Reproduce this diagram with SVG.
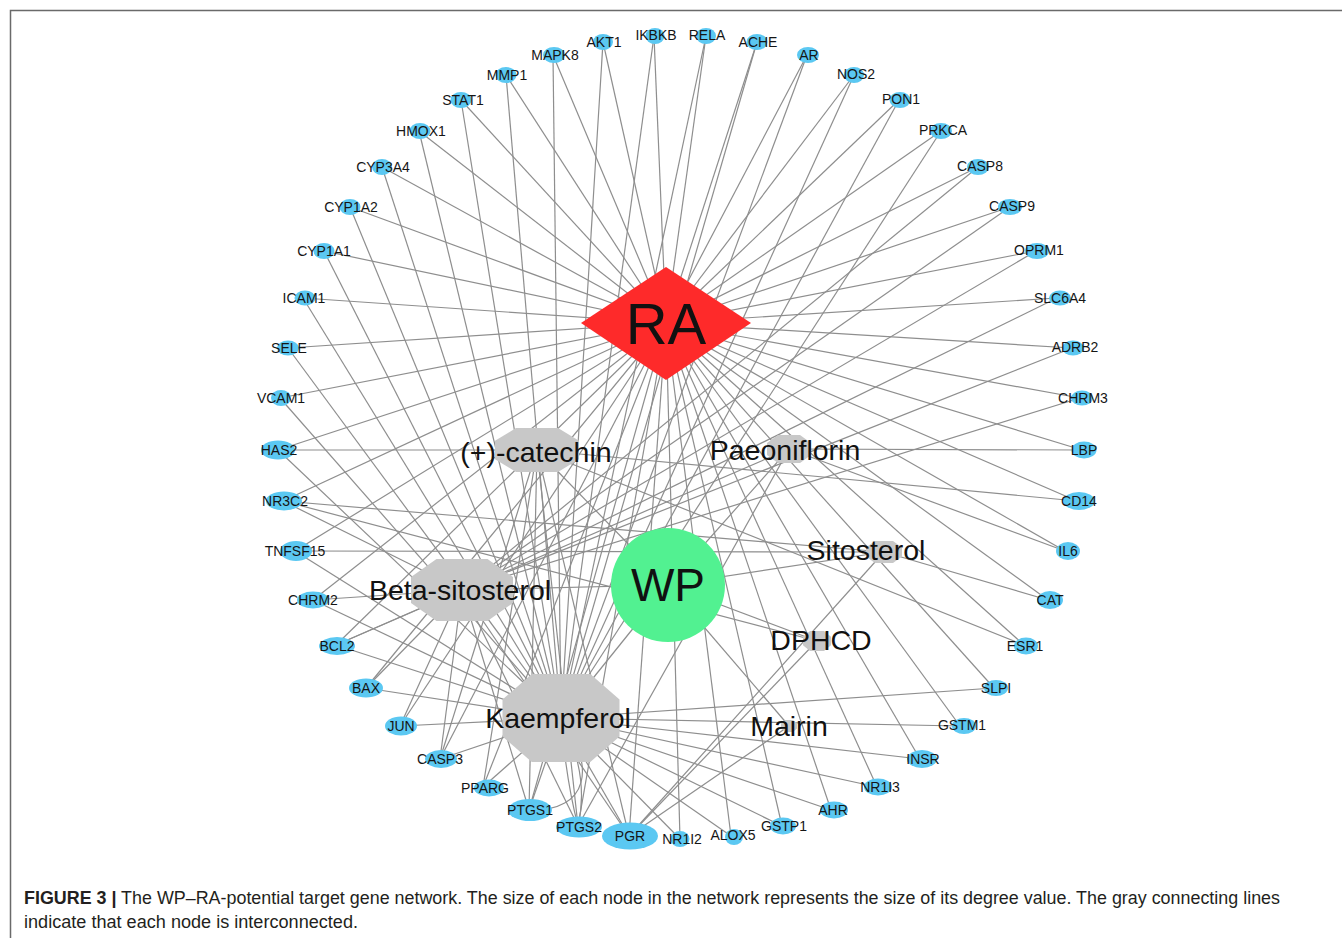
<svg xmlns="http://www.w3.org/2000/svg" width="1342" height="938" viewBox="0 0 1342 938">
<style>
.e line,.e path{stroke:#8e8e8e;stroke-width:1.2;fill:none}
.t ellipse{fill:#5bc8f2}
.t text{font-family:"Liberation Sans",Arial,sans-serif;font-size:14px;text-anchor:middle;fill:#151515}
.c polygon{fill:#c8c8c8}
.c text{font-family:"Liberation Sans",Arial,sans-serif;font-size:28.5px;text-anchor:middle;fill:#111}
.cap{font-family:"Liberation Sans",Arial,sans-serif;font-size:17.5px;fill:#231f20}
</style>
<rect x="0" y="0" width="1342" height="938" fill="#ffffff"/>
<path d="M10.5,938 V10.5 H1342" fill="none" stroke="#6a6a6a" stroke-width="1.5"/>
<g id="edges" class="e">
<!-- RA to targets -->
<line x1="666" y1="323" x2="680" y2="839"/><line x1="666" y1="323" x2="629" y2="836"/><line x1="666" y1="323" x2="578" y2="826"/><line x1="666" y1="323" x2="529" y2="810"/><line x1="666" y1="323" x2="483" y2="787"/><line x1="666" y1="323" x2="440" y2="759"/><line x1="666" y1="323" x2="400" y2="726"/><line x1="666" y1="323" x2="366" y2="688"/><line x1="666" y1="323" x2="336" y2="645"/><line x1="666" y1="323" x2="313" y2="600"/><line x1="666" y1="323" x2="295" y2="551"/><line x1="666" y1="323" x2="283" y2="501"/><line x1="666" y1="323" x2="278" y2="450"/><line x1="666" y1="323" x2="280" y2="398"/><line x1="666" y1="323" x2="288" y2="348"/><line x1="666" y1="323" x2="303" y2="298"/><line x1="666" y1="323" x2="324" y2="251"/><line x1="666" y1="323" x2="350" y2="207"/><line x1="666" y1="323" x2="382" y2="167"/><line x1="666" y1="323" x2="419" y2="131"/><line x1="666" y1="323" x2="461" y2="100"/><line x1="666" y1="323" x2="506" y2="75"/><line x1="666" y1="323" x2="553" y2="55"/><line x1="666" y1="323" x2="603" y2="42"/><line x1="666" y1="323" x2="654" y2="36"/><line x1="666" y1="323" x2="706" y2="36"/><line x1="666" y1="323" x2="757" y2="42"/><line x1="666" y1="323" x2="807" y2="55"/><line x1="666" y1="323" x2="854" y2="75"/><line x1="666" y1="323" x2="899" y2="100"/><line x1="666" y1="323" x2="941" y2="131"/><line x1="666" y1="323" x2="978" y2="167"/><line x1="666" y1="323" x2="1010" y2="207"/><line x1="666" y1="323" x2="1036" y2="251"/><line x1="666" y1="323" x2="1057" y2="298"/><line x1="666" y1="323" x2="1072" y2="348"/><line x1="666" y1="323" x2="1080" y2="398"/><line x1="666" y1="323" x2="1082" y2="450"/><line x1="666" y1="323" x2="1077" y2="501"/><line x1="666" y1="323" x2="1065" y2="551"/><line x1="666" y1="323" x2="1048" y2="600"/><line x1="666" y1="323" x2="1024" y2="645"/><line x1="666" y1="323" x2="994" y2="688"/><line x1="666" y1="323" x2="960" y2="726"/><line x1="666" y1="323" x2="920" y2="759"/><line x1="666" y1="323" x2="877" y2="787"/><line x1="666" y1="323" x2="831" y2="810"/><line x1="666" y1="323" x2="782" y2="826"/><line x1="666" y1="323" x2="731" y2="836"/>
<!-- WP to compounds -->
<line x1="668" y1="585" x2="561" y2="718"/><line x1="668" y1="585" x2="462" y2="590"/><line x1="668" y1="585" x2="537" y2="450"/><line x1="668" y1="585" x2="789" y2="449"/><line x1="668" y1="585" x2="884" y2="552"/><line x1="668" y1="585" x2="817" y2="641"/><line x1="668" y1="585" x2="789" y2="726"/>
<!-- Kaempferol -->
<line x1="561" y1="718" x2="553" y2="55"/><line x1="561" y1="718" x2="603" y2="42"/><line x1="561" y1="718" x2="654" y2="36"/><line x1="561" y1="718" x2="706" y2="36"/><line x1="561" y1="718" x2="757" y2="42"/><line x1="561" y1="718" x2="807" y2="55"/><line x1="561" y1="718" x2="854" y2="75"/><line x1="561" y1="718" x2="899" y2="100"/><line x1="561" y1="718" x2="941" y2="131"/><line x1="561" y1="718" x2="461" y2="100"/><line x1="561" y1="718" x2="506" y2="75"/><line x1="561" y1="718" x2="419" y2="131"/><line x1="561" y1="718" x2="382" y2="167"/><line x1="561" y1="718" x2="350" y2="207"/><line x1="561" y1="718" x2="324" y2="251"/><line x1="561" y1="718" x2="303" y2="298"/><line x1="561" y1="718" x2="288" y2="348"/><line x1="561" y1="718" x2="280" y2="398"/><line x1="561" y1="718" x2="278" y2="450"/><line x1="561" y1="718" x2="295" y2="551"/><line x1="561" y1="718" x2="313" y2="600"/><line x1="561" y1="718" x2="336" y2="645"/><line x1="561" y1="718" x2="366" y2="688"/><line x1="561" y1="718" x2="400" y2="726"/><line x1="561" y1="718" x2="440" y2="759"/><line x1="561" y1="718" x2="483" y2="787"/><line x1="561" y1="718" x2="529" y2="810"/><line x1="561" y1="718" x2="629" y2="836"/><line x1="561" y1="718" x2="680" y2="839"/><line x1="561" y1="718" x2="731" y2="836"/><line x1="561" y1="718" x2="782" y2="826"/><line x1="561" y1="718" x2="831" y2="810"/><line x1="561" y1="718" x2="877" y2="787"/><line x1="561" y1="718" x2="920" y2="759"/><line x1="561" y1="718" x2="960" y2="726"/><line x1="561" y1="718" x2="994" y2="688"/>
<path d="M561,718 Q590,775 578,826"/><path d="M561,718 Q566,780 578,826"/><path d="M561,718 C596,765 590,812 529,810"/>
<!-- Beta-sitosterol -->
<line x1="462" y1="590" x2="978" y2="167"/><line x1="462" y1="590" x2="1010" y2="207"/><line x1="462" y1="590" x2="1036" y2="251"/><line x1="462" y1="590" x2="1057" y2="298"/><line x1="462" y1="590" x2="1072" y2="348"/><line x1="462" y1="590" x2="1080" y2="398"/><line x1="462" y1="590" x2="283" y2="501"/><line x1="462" y1="590" x2="313" y2="600"/><line x1="462" y1="590" x2="336" y2="645"/><line x1="462" y1="590" x2="366" y2="688"/><line x1="462" y1="590" x2="400" y2="726"/><line x1="462" y1="590" x2="440" y2="759"/><line x1="462" y1="590" x2="529" y2="810"/><line x1="462" y1="590" x2="578" y2="826"/><line x1="462" y1="590" x2="629" y2="836"/>
<!-- (+)-catechin -->
<line x1="537" y1="450" x2="278" y2="450"/><line x1="537" y1="450" x2="1024" y2="645"/><line x1="537" y1="450" x2="1077" y2="501"/><line x1="537" y1="450" x2="529" y2="810"/><line x1="537" y1="450" x2="578" y2="826"/><line x1="537" y1="450" x2="629" y2="836"/><line x1="537" y1="450" x2="483" y2="787"/><line x1="537" y1="450" x2="440" y2="759"/>
<!-- Paeoniflorin -->
<line x1="789" y1="449" x2="1082" y2="450"/><line x1="789" y1="449" x2="1065" y2="551"/><line x1="789" y1="449" x2="578" y2="826"/><line x1="789" y1="449" x2="336" y2="645"/>
<!-- Sitosterol -->
<line x1="884" y1="552" x2="283" y2="501"/><line x1="884" y1="552" x2="1048" y2="600"/><line x1="884" y1="552" x2="629" y2="836"/><line x1="884" y1="552" x2="295" y2="551"/>
<!-- DPHCD / Mairin -->
<line x1="817" y1="641" x2="629" y2="836"/><line x1="817" y1="641" x2="283" y2="501"/><line x1="789" y1="726" x2="629" y2="836"/>
</g>
<g id="RA"><polygon points="666,267 751,323 666,380 581,323" fill="#fe2a2a"/><text x="666" y="344" font-family="Liberation Sans,Arial,sans-serif" font-size="58" text-anchor="middle" fill="#111">RA</text></g>
<g id="WP"><circle cx="668" cy="585" r="57" fill="#52f191"/><text x="668" y="601" font-family="Liberation Sans,Arial,sans-serif" font-size="46" text-anchor="middle" fill="#111">WP</text></g>
<g id="kaempferol" class="c"><polygon points="531.8,674 590.3,674 619.5,699.5 619.5,736.5 590.3,762 531.8,762 502.5,736.5 502.5,699.5"/><text x="558" y="728">Kaempferol</text></g>
<g id="beta-sitosterol" class="c"><polygon points="436.5,559 487.5,559 513,577 513,603 487.5,621 436.5,621 411,603 411,577"/><text x="460" y="600">Beta-sitosterol</text></g>
<g id="catechin" class="c"><polygon points="516,428 558,428 579,440.8 579,459.2 558,472 516,472 495,459.2 495,440.8"/><text x="536" y="462">(+)-catechin</text></g>
<g id="paeoniflorin" class="c"><polygon points="778,435 800,435 811,443.1 811,454.9 800,463 778,463 767,454.9 767,443.1"/><text x="785" y="460">Paeoniflorin</text></g>
<g id="sitosterol" class="c"><polygon points="875,541 893,541 902,547.4 902,556.6 893,563 875,563 866,556.6 866,547.4"/><text x="866" y="560">Sitosterol</text></g>
<g id="dphcd" class="c"><polygon points="810,631 824,631 831,636.8 831,645.2 824,651 810,651 803,645.2 803,636.8"/><text x="821" y="650">DPHCD</text></g>
<g id="mairin" class="c"><polygon points="785,720 793,720 797,723.5 797,728.5 793,732 785,732 781,728.5 781,723.5"/><text x="789" y="736">Mairin</text></g>
<g id="NR1I2" class="t"><ellipse cx="680" cy="839" rx="9.5" ry="8"/><text x="682" y="844">NR1I2</text></g>
<g id="PGR" class="t"><ellipse cx="630" cy="836" rx="28" ry="13.5"/><text x="630" y="841">PGR</text></g>
<g id="PTGS2" class="t"><ellipse cx="579" cy="827" rx="23" ry="10.5"/><text x="579" y="832">PTGS2</text></g>
<g id="PTGS1" class="t"><ellipse cx="530" cy="810" rx="22" ry="11"/><text x="530" y="815">PTGS1</text></g>
<g id="PPARG" class="t"><ellipse cx="489" cy="788" rx="15" ry="8.5"/><text x="485" y="793">PPARG</text></g>
<g id="CASP3" class="t"><ellipse cx="441" cy="759" rx="16" ry="9"/><text x="440" y="764">CASP3</text></g>
<g id="JUN" class="t"><ellipse cx="401" cy="726" rx="16" ry="9.5"/><text x="401" y="731">JUN</text></g>
<g id="BAX" class="t"><ellipse cx="366" cy="688" rx="17" ry="9.5"/><text x="366" y="693">BAX</text></g>
<g id="BCL2" class="t"><ellipse cx="337" cy="646" rx="18" ry="9"/><text x="337" y="651">BCL2</text></g>
<g id="CHRM2" class="t"><ellipse cx="313" cy="600" rx="16" ry="8.5"/><text x="313" y="605">CHRM2</text></g>
<g id="TNFSF15" class="t"><ellipse cx="296" cy="551" rx="16" ry="10"/><text x="295" y="556">TNFSF15</text></g>
<g id="NR3C2" class="t"><ellipse cx="284" cy="501" rx="18" ry="9.5"/><text x="285" y="506">NR3C2</text></g>
<g id="HAS2" class="t"><ellipse cx="278" cy="450" rx="17" ry="9.5"/><text x="279" y="455">HAS2</text></g>
<g id="VCAM1" class="t"><ellipse cx="281" cy="398" rx="10" ry="8"/><text x="281" y="403">VCAM1</text></g>
<g id="SELE" class="t"><ellipse cx="288" cy="348" rx="11" ry="7.5"/><text x="289" y="353">SELE</text></g>
<g id="ICAM1" class="t"><ellipse cx="305" cy="298" rx="10.5" ry="7.5"/><text x="304" y="303">ICAM1</text></g>
<g id="CYP1A1" class="t"><ellipse cx="324" cy="251" rx="10.5" ry="8"/><text x="324" y="256">CYP1A1</text></g>
<g id="CYP1A2" class="t"><ellipse cx="350" cy="207" rx="10.5" ry="8"/><text x="351" y="212">CYP1A2</text></g>
<g id="CYP3A4" class="t"><ellipse cx="382" cy="167" rx="10" ry="8"/><text x="383" y="172">CYP3A4</text></g>
<g id="HMOX1" class="t"><ellipse cx="420" cy="131" rx="10.5" ry="8"/><text x="421" y="136">HMOX1</text></g>
<g id="STAT1" class="t"><ellipse cx="461" cy="100" rx="10.5" ry="8"/><text x="463" y="105">STAT1</text></g>
<g id="MMP1" class="t"><ellipse cx="506" cy="75" rx="10.5" ry="8"/><text x="507" y="80">MMP1</text></g>
<g id="MAPK8" class="t"><ellipse cx="554" cy="55" rx="11" ry="8"/><text x="555" y="60">MAPK8</text></g>
<g id="AKT1" class="t"><ellipse cx="603" cy="42" rx="10" ry="8"/><text x="604" y="47">AKT1</text></g>
<g id="IKBKB" class="t"><ellipse cx="655" cy="36" rx="9.5" ry="8"/><text x="656" y="40">IKBKB</text></g>
<g id="RELA" class="t"><ellipse cx="706" cy="36" rx="10" ry="8"/><text x="707" y="40">RELA</text></g>
<g id="ACHE" class="t"><ellipse cx="757" cy="42" rx="10.5" ry="8"/><text x="758" y="47">ACHE</text></g>
<g id="AR" class="t"><ellipse cx="808" cy="55" rx="11" ry="8"/><text x="809" y="60">AR</text></g>
<g id="NOS2" class="t"><ellipse cx="854" cy="75" rx="10" ry="8"/><text x="856" y="79">NOS2</text></g>
<g id="PON1" class="t"><ellipse cx="900" cy="100" rx="10.5" ry="8"/><text x="901" y="104">PON1</text></g>
<g id="PRKCA" class="t"><ellipse cx="941" cy="131" rx="11" ry="8"/><text x="943" y="135">PRKCA</text></g>
<g id="CASP8" class="t"><ellipse cx="978" cy="167" rx="11" ry="8"/><text x="980" y="171">CASP8</text></g>
<g id="CASP9" class="t"><ellipse cx="1010" cy="207" rx="12" ry="8"/><text x="1012" y="211">CASP9</text></g>
<g id="OPRM1" class="t"><ellipse cx="1037" cy="251" rx="12" ry="8"/><text x="1039" y="255">OPRM1</text></g>
<g id="SLC6A4" class="t"><ellipse cx="1060" cy="298" rx="11" ry="7.5"/><text x="1060" y="303">SLC6A4</text></g>
<g id="ADRB2" class="t"><ellipse cx="1073" cy="348" rx="11" ry="7.5"/><text x="1075" y="352">ADRB2</text></g>
<g id="CHRM3" class="t"><ellipse cx="1082" cy="398" rx="11" ry="7.5"/><text x="1083" y="403">CHRM3</text></g>
<g id="LBP" class="t"><ellipse cx="1084" cy="450" rx="12.5" ry="8.5"/><text x="1084" y="455">LBP</text></g>
<g id="CD14" class="t"><ellipse cx="1079" cy="501" rx="16" ry="9"/><text x="1079" y="506">CD14</text></g>
<g id="IL6" class="t"><ellipse cx="1068" cy="551" rx="12" ry="9"/><text x="1068" y="556">IL6</text></g>
<g id="CAT" class="t"><ellipse cx="1050" cy="600" rx="13" ry="9"/><text x="1050" y="605">CAT</text></g>
<g id="ESR1" class="t"><ellipse cx="1026" cy="646" rx="12" ry="8.5"/><text x="1025" y="651">ESR1</text></g>
<g id="SLPI" class="t"><ellipse cx="996" cy="688" rx="12" ry="8"/><text x="996" y="693">SLPI</text></g>
<g id="GSTM1" class="t"><ellipse cx="964" cy="726" rx="12" ry="8"/><text x="962" y="730">GSTM1</text></g>
<g id="INSR" class="t"><ellipse cx="922" cy="759" rx="15" ry="9"/><text x="923" y="764">INSR</text></g>
<g id="NR1I3" class="t"><ellipse cx="878" cy="787" rx="14" ry="8.5"/><text x="880" y="792">NR1I3</text></g>
<g id="AHR" class="t"><ellipse cx="834" cy="810" rx="14" ry="8.5"/><text x="833" y="815">AHR</text></g>
<g id="GSTP1" class="t"><ellipse cx="783" cy="826" rx="13" ry="8.5"/><text x="784" y="831">GSTP1</text></g>
<g id="ALOX5" class="t"><ellipse cx="734" cy="837" rx="9" ry="8"/><text x="733" y="840">ALOX5</text></g>
<g id="caption">
<text class="cap" x="24" y="904" textLength="1256" lengthAdjust="spacingAndGlyphs"><tspan font-weight="bold">FIGURE 3 |</tspan> The WP–RA-potential target gene network. The size of each node in the network represents the size of its degree value. The gray connecting lines</text>
<text class="cap" x="24" y="928" textLength="334" lengthAdjust="spacingAndGlyphs">indicate that each node is interconnected.</text>
</g>
</svg>
